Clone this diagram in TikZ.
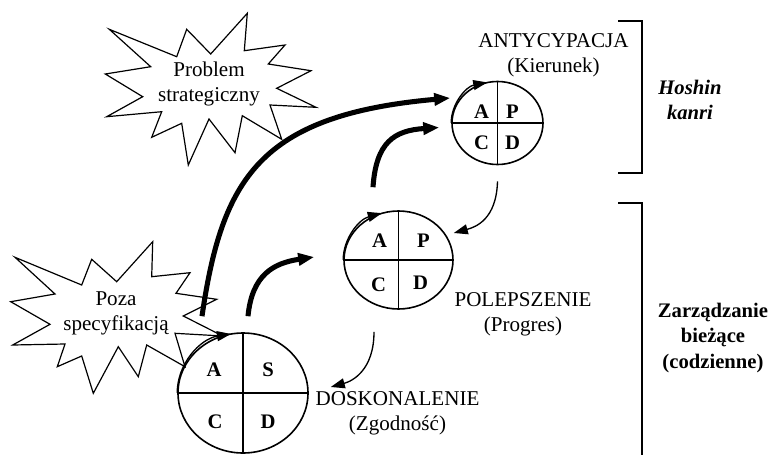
\documentclass[tikz,border=0pt]{standalone}
\usepackage{fontspec}
\setmainfont{Liberation Serif}
\usepackage{tikz}
\usetikzlibrary{shapes.geometric, arrows.meta, positioning, calc}
\tikzstyle{cykl} = [ellipse, draw = black, line width = 1.2pt, inner sep = 0pt]
\tikzstyle{litera} = [inner sep = 0pt, font = \fontsize{15.5}{18}\selectfont\bfseries]
\tikzstyle{opis} = [inner sep = 0pt, align = center, font = \fontsize{15.8}{18.8}\selectfont]
\tikzstyle{gruba} = [line width = 3.8pt, -{Triangle[length = 12pt, width = 9pt]}]
\tikzstyle{cienka} = [line width = 1pt, -{Triangle[length = 10.5pt, width = 7.5pt]}]
\tikzstyle{gwiazda} = [draw = black, line width = 0.9pt, line join = miter]
\tikzstyle{klamra} = [line width = 1.4pt]

\begin{document}
\begin{tikzpicture}[x = 0.75pt, y = -0.75pt]
\useasboundingbox (0,0) rectangle (772,454);

% gwiazdy
\draw[gwiazda] (109.3,29.3) -- (176.7,56.7) -- (186.7,29.3) -- (210.7,54) -- (247.3,13.3) -- (244.3,50.7) -- (285,45) -- (268.3,64) -- (311,70.7) -- (276.7,88.3) -- (316,107.3) -- (270,105) -- (281.7,139.3) -- (242.3,115.7) -- (235,152.7) -- (209,119) -- (188.3,165) -- (181.7,123.3) -- (151.7,137.3) -- (161.7,111.7) -- (106.7,116.7) -- (142.7,96.7) -- (105.3,74) -- (150.7,66.7) -- cycle;
\node (problem) [opis] at (209,84) {Problem\\strategiczny} ;

\draw[gwiazda] (15,257.3) -- (81.7,285) -- (91.7,259.3) -- (116.7,281.7) -- (152.7,241.7) -- (151.7,276.7) -- (190,272.7) -- (176,293.3) -- (216.7,299.3) -- (183.3,316) -- (222.7,336) -- (175,333.3) -- (185,366.7) -- (146.7,345) -- (138.3,376.7) -- (118.3,346.7) -- (93.3,393.3) -- (81.7,356) -- (57.3,366.7) -- (65,344) -- (12.7,345) -- (50,324.3) -- (10.7,301.7) -- (55,294) -- cycle;
\node (poza) [opis] at (116,313) {Poza\\specyfikacją} ;

% cykle
\node (antycypacja) [cykl, minimum width = 68.25pt, minimum height = 62.25pt] at (497.5,123) {} ;
\draw[line width = 1.2pt] (antycypacja.north) -- (antycypacja.south) ;
\draw[line width = 1.2pt] (antycypacja.west) -- (antycypacja.east) ;
\draw[cienka] (antycypacja.west) arc[start angle = 180, end angle = 258, x radius = 45.5, y radius = 41.5] ;
\node (a1) [litera] at ([shift={(-16,-11)}]antycypacja.center) {A} ;
\node (p1) [litera] at ([shift={(15,-11)}]antycypacja.center) {P} ;
\node (c1) [litera] at ([shift={(-16,20)}]antycypacja.center) {C} ;
\node (d1) [litera] at ([shift={(15,20)}]antycypacja.center) {D} ;

\node (polepszenie) [cykl, minimum width = 81.75pt, minimum height = 73.5pt] at (398.5,260) {} ;
\draw[line width = 1.2pt] (polepszenie.north) -- (polepszenie.south) ;
\draw[line width = 1.2pt] (polepszenie.west) -- (polepszenie.east) ;
\draw[cienka] (polepszenie.west) arc[start angle = 180, end angle = 253, x radius = 54.5, y radius = 49] ;
\node (a2) [litera] at ([shift={(-19,-19)}]polepszenie.center) {A} ;
\node (p2) [litera] at ([shift={(25,-19)}]polepszenie.center) {P} ;
\node (c2) [litera] at ([shift={(-20,25)}]polepszenie.center) {C} ;
\node (d2) [litera] at ([shift={(22,23)}]polepszenie.center) {D} ;

\node (doskonalenie) [cykl, minimum width = 97.5pt, minimum height = 90pt] at (243,393) {} ;
\draw[line width = 1.2pt] (doskonalenie.north) -- (doskonalenie.south) ;
\draw[line width = 1.2pt] (doskonalenie.west) -- (doskonalenie.east) ;
\draw[cienka] (doskonalenie.west) arc[start angle = 180, end angle = 260, x radius = 65, y radius = 60] ;
\node (a3) [litera] at ([shift={(-29,-23)}]doskonalenie.center) {A} ;
\node (s3) [litera] at ([shift={(25,-23)}]doskonalenie.center) {S} ;
\node (c3) [litera] at ([shift={(-28,29)}]doskonalenie.center) {C} ;
\node (d3) [litera] at ([shift={(25,29)}]doskonalenie.center) {D} ;

% opisy
\node (kierunek) [opis] at (553.5,55) {ANTYCYPACJA\\(Kierunek)} ;
\node (progres) [opis] at (523,314) {POLEPSZENIE\\(Progres)} ;
\node (zgodnosc) [opis] at (397.5,413) {DOSKONALENIE\\(Zgodność)} ;
\node (hoshin) [inner sep = 0pt, align = center, font = \fontsize{15.5}{18.8}\selectfont\bfseries\itshape] at (690,100) {Hoshin\\kanri} ;
\node (zarzadzanie) [inner sep = 0pt, align = center, font = \fontsize{15.5}{18.8}\selectfont\bfseries] at (713,338) {Zarządzanie\\bieżące\\(codzienne)} ;

% klamry
\draw[klamra] (618,21) -- (642,21) -- (642,173) -- (618,173) ;
\draw[klamra] (618,203) -- (642,203) -- (642,456) ;

% strzalki
\draw[gruba] ([shift={(-41,-16)}]doskonalenie.north) .. controls +(20,-137) and +(-191,17) .. ([shift={(-1,-25)}]antycypacja.west) ;
\draw[gruba] ([shift={(5,-16)}]doskonalenie.north) .. controls +(4,-42) and +(-40,6) .. ([shift={(-29,-3)}]polepszenie.west) ;
\draw[gruba] ([shift={(-25.5,-23)}]polepszenie.north) .. controls +(3,-45) and +(-45,3) .. ([shift={(-12,4.5)}]antycypacja.west) ;
\draw[cienka] ([shift={(0,16)}]antycypacja.south) .. controls +(-1,38) and +(22,-6) .. ([shift={(0,-27)}]polepszenie.east) ;
\draw[cienka] ([shift={(-24.5,22)}]polepszenie.south) .. controls +(0,38) and +(22,-6) .. ([shift={(22,-6)}]doskonalenie.east) ;
\end{tikzpicture}
\end{document}
